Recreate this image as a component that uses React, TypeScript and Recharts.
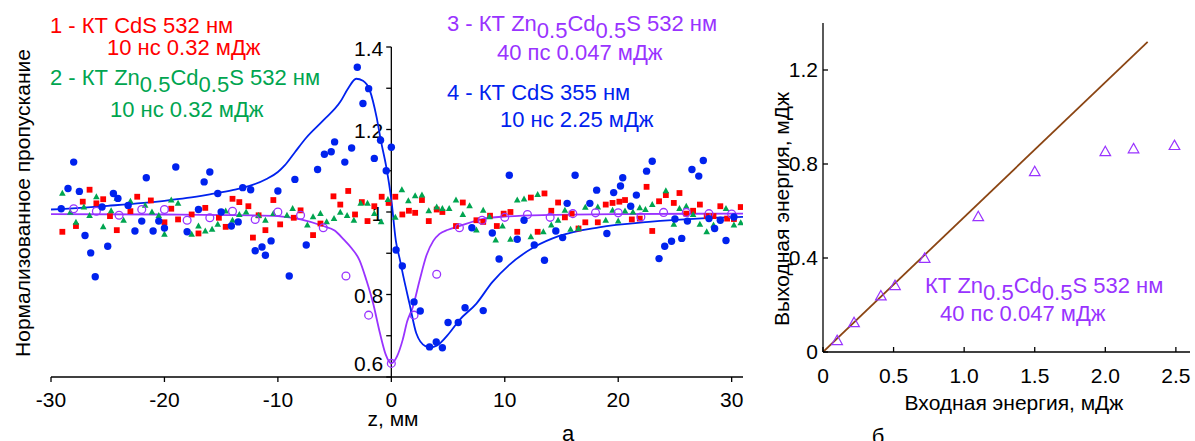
import React from 'react';
import { ComposedChart, Scatter, Line, XAxis, YAxis, ReferenceLine } from 'recharts';

const RED = '#ff0000';
const GREEN = '#00a550';
const PURPLE = '#9933ff';
const BLUE = '#0022ee';
const BROWN = '#8b4513';
const FONT = '"Liberation Sans", Arial, sans-serif';

// (a) z-scan, [z (мм), нормализованное пропускание]
// 1 - КТ CdS 532 нм, 10 нс 0.32 мДж
const cds532: [number, number][] = [
  [-29.0, 0.952], [-27.8, 0.966], [-27.2, 1.025], [-26.6, 1.054], [-26.0, 1.021], [-25.4, 1.031],
  [-24.8, 0.99], [-24.2, 0.956], [-23.0, 1.002], [-22.4, 1.037], [-21.2, 1.028], [-20.0, 0.975],
  [-19.4, 1.008], [-18.8, 0.982], [-17.6, 0.994], [-17.0, 0.948], [-16.4, 1.01], [-15.2, 0.986],
  [-14.6, 0.964], [-14.0, 1.032], [-13.4, 1.024], [-12.6, 1.014], [-12.2, 0.938], [-11.7, 0.992],
  [-11.1, 0.956], [-10.4, 1.029], [-9.8, 0.97], [-8.6, 0.986], [-8.0, 1.004], [-6.9, 0.944],
  [-6.25, 0.972], [-5.1, 1.038], [-4.5, 1.018], [-3.8, 1.051], [-3.2, 0.994], [-2.6, 1.024],
  [-2.1, 0.978], [-1.5, 1.014], [-0.85, 1.037], [-0.24, 1.022], [0.35, 1.037], [0.97, 0.994],
  [1.55, 1.003], [2.1, 0.998], [2.7, 1.029], [3.3, 0.978], [4.0, 1.006], [4.5, 1.0],
  [5.7, 0.966], [6.3, 1.023], [7.5, 0.98], [8.1, 0.976], [8.7, 0.991], [9.3, 0.966],
  [9.9, 0.996], [10.5, 1.0], [11.1, 0.952], [12.3, 1.035], [12.9, 0.952], [13.5, 1.045],
  [14.1, 1.003], [14.7, 1.023], [15.3, 0.987], [15.9, 0.996], [16.5, 0.96], [17.1, 0.975],
  [18.2, 0.975], [18.9, 1.018], [19.5, 1.022], [20.1, 1.025], [20.6, 1.029], [21.2, 0.982],
  [21.9, 0.984], [22.5, 1.061], [23.0, 0.954], [23.6, 1.026], [24.2, 1.041], [24.9, 1.022],
  [25.4, 1.046], [26.0, 0.996], [26.6, 1.003], [27.2, 1.018], [27.8, 0.99], [28.4, 0.99],
  [29.0, 1.014], [29.6, 0.984], [30.2, 0.983], [30.8, 1.012],
];

// 2 - КТ Zn0.5Cd0.5S 532 нм, 10 нс 0.32 мДж
const znCd532ns: [number, number][] = [
  [-29.0, 1.045], [-28.3, 0.999], [-27.8, 0.975], [-27.1, 1.012], [-26.6, 0.991], [-26.0, 1.037],
  [-25.4, 0.964], [-24.7, 1.003], [-24.2, 1.033], [-23.6, 0.98], [-23.0, 1.026], [-21.7, 1.016],
  [-21.1, 1.0], [-20.5, 0.991], [-20.0, 0.946], [-19.4, 1.029], [-18.8, 1.021], [-17.6, 0.946],
  [-17.0, 0.966], [-16.4, 0.954], [-15.8, 0.958], [-15.3, 0.97], [-14.6, 1.002], [-14.0, 0.98],
  [-13.4, 0.994], [-12.8, 1.0], [-11.7, 0.991], [-11.1, 0.98], [-10.4, 0.996], [-9.2, 0.992],
  [-8.7, 1.008], [-7.4, 0.968], [-6.9, 0.988], [-6.25, 0.996], [-5.7, 0.976], [-5.05, 0.984],
  [-4.5, 0.999], [-3.9, 0.991], [-3.3, 0.98], [-2.7, 1.021], [-2.1, 1.021], [-1.5, 0.996],
  [-0.9, 0.976], [-0.3, 1.03], [0.35, 0.987], [0.93, 1.054], [1.5, 1.027], [2.1, 1.039],
  [2.7, 1.041], [3.3, 1.003], [4.0, 1.012], [4.5, 1.008], [5.1, 1.008], [5.7, 1.029],
  [6.3, 0.994], [6.9, 1.015], [7.5, 0.956], [8.1, 1.004], [8.65, 0.988], [9.2, 0.932],
  [9.8, 0.966], [10.5, 0.934], [11.1, 1.029], [11.7, 1.031], [12.3, 0.94], [12.9, 1.042],
  [13.4, 0.952], [14.1, 0.968], [14.7, 0.98], [15.3, 1.004], [15.8, 0.958], [16.5, 0.96],
  [17.1, 1.011], [18.2, 1.012], [18.9, 0.98], [19.5, 1.004], [20.0, 0.978], [20.6, 1.002],
  [21.3, 1.0], [21.9, 1.01], [22.4, 1.006], [23.0, 1.018], [24.2, 1.051], [24.9, 0.97],
  [25.4, 1.008], [26.0, 1.014], [26.6, 0.994], [27.2, 0.97], [27.8, 0.952], [28.4, 0.968],
  [29.5, 1.008], [30.2, 0.968], [30.8, 0.974],
];

// 3 - КТ Zn0.5Cd0.5S 532 нм, 40 пс 0.047 мДж
const znCd532ps: [number, number][] = [
  [-28, 1.008], [-26, 1.002], [-24, 0.992], [-22, 1.006], [-20, 1.006], [-18, 0.98],
  [-16, 0.986], [-14, 1.002], [-12, 0.982], [-10, 1.0], [-8, 0.992], [-6, 0.962],
  [-4, 0.845], [-2, 0.75], [0, 0.633], [2, 0.75], [4, 0.849], [6, 0.962],
  [8, 0.98], [10, 0.987], [12, 0.994], [14, 0.987], [16, 0.996], [18, 0.998],
  [20, 0.998], [22, 0.988], [24, 0.999], [26, 0.999], [28, 0.996], [30, 0.995],
];
const znCd532psFit: [number, number][] = [
  [-30, 0.995], [-20, 0.994], [-12, 0.992], [-10, 0.99], [-8, 0.982], [-6, 0.966],
  [-5, 0.955], [-4.25, 0.935], [-3.5, 0.912], [-2.8, 0.883], [-2.2, 0.835], [-1.6, 0.778],
  [-1.0, 0.706], [-0.5, 0.655], [0, 0.633], [0.5, 0.65], [1.0, 0.69], [1.4, 0.735],
  [1.9, 0.77], [2.5, 0.835], [3.1, 0.895], [3.7, 0.93], [4.25, 0.947], [5, 0.957],
  [6, 0.966], [8, 0.983], [10, 0.989], [14, 0.993], [20, 0.995], [31, 0.996],
];

// 4 - КТ CdS 355 нм, 10 нс 2.25 мДж
const cds355: [number, number][] = [
  [-29.1, 1.008], [-28.5, 1.057], [-28.0, 1.121], [-27.5, 1.05], [-27.0, 0.943], [-26.5, 0.901],
  [-26.1, 0.843], [-25.5, 1.012], [-25.0, 0.917], [-24.5, 1.045], [-24.1, 1.033], [-23.2, 1.016],
  [-22.6, 0.954], [-22.0, 0.978], [-21.6, 1.083], [-21.0, 0.954], [-20.5, 0.978], [-20.0, 0.961],
  [-19.0, 1.109], [-18.0, 0.952], [-17.0, 1.006], [-16.5, 1.073], [-16.0, 1.097], [-15.3, 1.045],
  [-15.0, 1.0], [-14.1, 0.966], [-13.5, 0.976], [-13.1, 1.059], [-12.4, 1.054], [-12.0, 0.906],
  [-11.4, 0.915], [-11.1, 0.895], [-10.6, 0.93], [-10.0, 1.051], [-9.0, 0.845], [-8.5, 1.079],
  [-7.5, 0.92], [-6.5, 1.103], [-5.9, 1.14], [-5.3, 1.146], [-5.0, 1.17], [-4.1, 1.121],
  [-3.5, 1.155], [-3.0, 1.351], [-2.5, 1.263], [-2.0, 1.299], [-1.5, 1.13], [-0.95, 1.174],
  [-0.45, 1.1], [0, 1.157], [0.42, 0.908], [0.97, 0.869], [2.0, 0.782], [2.55, 0.76],
  [3.37, 0.673], [3.96, 0.685], [4.5, 0.671], [5.0, 0.732], [5.9, 0.732], [6.5, 0.768],
  [7.1, 0.962], [8.1, 0.761], [8.9, 0.949], [9.5, 0.886], [10.4, 1.089], [11.1, 0.934],
  [11.7, 0.98], [12.6, 0.92], [13.5, 0.883], [14.5, 0.954], [15.1, 0.938], [15.5, 1.021],
  [16.2, 1.089], [17.5, 1.021], [18.1, 1.053], [19.0, 0.948], [19.6, 1.047], [20.2, 1.063],
  [20.4, 1.083], [21.1, 1.014], [21.6, 1.041], [22.5, 1.099], [23.0, 1.123], [23.6, 0.887],
  [24.1, 0.917], [24.7, 0.929], [25.0, 0.983], [25.6, 0.936], [26.1, 0.978], [26.5, 1.103],
  [27.1, 1.087], [27.5, 1.125], [28.0, 0.984], [28.5, 0.96], [29.0, 0.98], [29.5, 0.931],
  [30.2, 0.988],
];
const cds355Fit: [number, number][] = [
  [-30, 1.006], [-25, 1.015], [-20, 1.027], [-18, 1.034], [-16, 1.043], [-14, 1.053],
  [-12.3, 1.065], [-11, 1.08], [-10, 1.097], [-9.4, 1.113], [-8.5, 1.145], [-7.5, 1.18],
  [-6, 1.222], [-4.5, 1.267], [-3.8, 1.3], [-3.1, 1.323], [-2.5, 1.318], [-1.9, 1.295],
  [-1.3, 1.23], [-0.9, 1.17], [-0.45, 1.11], [0, 1.03], [0.4, 0.93], [0.75, 0.885],
  [1.05, 0.845], [1.6, 0.778], [2.2, 0.706], [3.0, 0.675], [3.5, 0.672], [4.0, 0.676],
  [5.1, 0.706], [6.0, 0.738], [7.5, 0.778], [8.9, 0.83], [10.4, 0.872], [12.6, 0.915],
  [14.8, 0.942], [18.3, 0.963], [22.7, 0.976], [27, 0.984], [31, 0.988],
];

const zTicks = [-30, -20, -10, 0, 10, 20, 30];
const tMinor = [0.6, 0.7, 0.8, 0.9, 1.0, 1.1, 1.2, 1.3, 1.4];
const tLabels: [number, string][] = [[0.6, '0.6'], [0.8, '0.8'], [1.0, '1'], [1.2, '1.2'], [1.4, '1.4']];

// (б) выходная энергия от входной
const inputEnergy = [0.1, 0.22, 0.41, 0.51, 0.72, 1.1, 1.5, 2.0, 2.2, 2.49];
const outputEnergy = [0.047, 0.123, 0.237, 0.281, 0.397, 0.574, 0.766, 0.851, 0.863, 0.877];
const linearFit: [number, number][] = [[0, 0], [2.3, 1.32]];
const eTicksX = [0, 0.5, 1, 1.5, 2, 2.5];
const eTicksY = [0, 0.4, 0.8, 1.2];

const pts = (arr: [number, number][]) => arr.map(([x, y]) => ({ x, y }));
const energyPts = inputEnergy.map((x, i) => ({ x, y: outputEnergy[i] }));

const Square = (p: any) => <rect x={p.cx - 2.9} y={p.cy - 2.9} width={5.8} height={5.8} fill={RED} />;
const Tri = (p: any) => (
  <path d={`M${p.cx},${p.cy - 3.6}L${p.cx + 3.3},${p.cy + 2.4}L${p.cx - 3.3},${p.cy + 2.4}Z`} fill={GREEN} />
);
const Ring = (p: any) => <circle cx={p.cx} cy={p.cy} r={3.9} fill="none" stroke={PURPLE} strokeWidth={1.3} />;
const Dot = (p: any) => <circle cx={p.cx} cy={p.cy} r={3.7} fill={BLUE} />;
const OpenTri = (p: any) => (
  <path
    d={`M${p.cx},${p.cy - 5.8}L${p.cx + 5.3},${p.cy + 3.6}L${p.cx - 5.3},${p.cy + 3.6}Z`}
    fill="none"
    stroke={PURPLE}
    strokeWidth={1.2}
  />
);

const fmtE = (v: number) => (v === 0 ? '0' : v.toFixed(1));

// Zn0.5Cd0.5S with lowered indices
function ZnCd() {
  return (
    <>
      <tspan>Zn</tspan>
      <tspan dy={7}>0.5</tspan>
      <tspan dy={-7}>Cd</tspan>
      <tspan dy={7}>0.5</tspan>
      <tspan dy={-7}>S 532 нм</tspan>
    </>
  );
}

function Annotations() {
  const t = { fontSize: 22, fontFamily: FONT } as const;
  return (
    <svg width={1195} height={441} style={{ position: 'absolute', left: 0, top: 0, pointerEvents: 'none' }}>
      <text x={50} y={33} fill={RED} {...t}>1 - КТ CdS 532 нм</text>
      <text x={107} y={55} fill={RED} {...t}>10 нс 0.32 мДж</text>
      <text x={50} y={85} fill={GREEN} {...t}>2 - КТ <ZnCd /></text>
      <text x={110} y={117} fill={GREEN} {...t}>10 нс 0.32 мДж</text>
      <text x={447} y={31} fill={PURPLE} {...t}>3 - КТ <ZnCd /></text>
      <text x={497} y={60} fill={PURPLE} {...t}>40 пс 0.047 мДж</text>
      <text x={447} y={100} fill={BLUE} {...t}>4 - КТ CdS 355 нм</text>
      <text x={500} y={127} fill={BLUE} {...t}>10 нс 2.25 мДж</text>
      <text x={925} y={293} fill={PURPLE} {...t}>КТ <ZnCd /></text>
      <text x={940} y={321} fill={PURPLE} {...t}>40 пс 0.047 мДж</text>

      <text transform="translate(22,203) rotate(-90)" textAnchor="middle" dominantBaseline="central" fontSize={21} fontFamily={FONT}>
        Нормализованное пропускание
      </text>
      <text transform="translate(781,209) rotate(-90)" textAnchor="middle" dominantBaseline="central" fontSize={21} fontFamily={FONT}>
        Выходная энергия, мДж
      </text>
      <text x={393} y={426} textAnchor="middle" fontSize={21} fontFamily={FONT}>z, мм</text>
      <text x={1014} y={410} textAnchor="middle" fontSize={21} fontFamily={FONT}>Входная энергия, мДж</text>
      <text x={568} y={441} textAnchor="middle" fontSize={22} fontFamily={FONT}>а</text>
      <text x={878} y={444} textAnchor="middle" fontSize={22} fontFamily={FONT}>б</text>
    </svg>
  );
}

function ZScanChart() {
  return (
    <ComposedChart width={760} height={441} margin={{ top: 47, right: 17, bottom: 34, left: 51 }}>
      <XAxis
        type="number"
        dataKey="x"
        domain={[-30, 31]}
        ticks={zTicks}
        interval={0}
        allowDataOverflow
        height={30}
        tickSize={5}
        tickMargin={10}
        axisLine={{ stroke: '#000', strokeWidth: 1.3 }}
        tickLine={{ stroke: '#000', strokeWidth: 1.3 }}
        tick={{ fill: '#000', fontSize: 21 }}
      />
      <YAxis type="number" dataKey="y" domain={[0.6, 1.4]} allowDataOverflow hide />
      <ReferenceLine x={0} stroke="#000" strokeWidth={1.3} />
      {tMinor.map((v) => (
        <ReferenceLine
          key={'tk' + v}
          segment={[{ x: -0.45, y: v }, { x: 0, y: v }]}
          stroke="#000"
          strokeWidth={1.3}
        />
      ))}
      {tLabels.map(([v, s]) => (
        <ReferenceLine
          key={'tl' + v}
          segment={[{ x: -0.45, y: v }, { x: 0, y: v }]}
          stroke="none"
          label={(p: any) => (
            <text
              x={p.viewBox.x - 3}
              y={p.viewBox.y + (v === 0.6 ? -14 : 1)}
              textAnchor="end"
              dominantBaseline="central"
              fontSize={21}
              fill="#000"
            >
              {s}
            </text>
          )}
        />
      ))}
      <Scatter data={pts(cds532)} dataKey="y" shape={Square} isAnimationActive={false} />
      <Scatter data={pts(znCd532ns)} dataKey="y" shape={Tri} isAnimationActive={false} />
      <Scatter data={pts(znCd532ps)} dataKey="y" shape={Ring} isAnimationActive={false} />
      <Scatter data={pts(cds355)} dataKey="y" shape={Dot} isAnimationActive={false} />
      <Line data={pts(znCd532psFit)} dataKey="y" type="monotone" stroke={PURPLE} strokeWidth={1.8} dot={false} isAnimationActive={false} />
      <Line data={pts(cds355Fit)} dataKey="y" type="monotone" stroke={BLUE} strokeWidth={1.8} dot={false} isAnimationActive={false} />
    </ComposedChart>
  );
}

function EnergyChart() {
  return (
    <ComposedChart width={435} height={441} margin={{ top: 23, right: 5, bottom: 59, left: 23 }}>
      <XAxis
        type="number"
        dataKey="x"
        domain={[0, 2.6]}
        ticks={eTicksX}
        interval={0}
        allowDataOverflow
        height={30}
        tickSize={-5}
        tickMargin={21}
        tickFormatter={fmtE}
        axisLine={{ stroke: '#000', strokeWidth: 1.3 }}
        tickLine={{ stroke: '#000', strokeWidth: 1.3 }}
        tick={{ fill: '#000', fontSize: 21 }}
      />
      <YAxis
        type="number"
        dataKey="y"
        domain={[0, 1.4]}
        ticks={eTicksY}
        interval={0}
        allowDataOverflow
        width={40}
        tickSize={-5}
        tickMargin={10}
        tickFormatter={fmtE}
        axisLine={{ stroke: '#000', strokeWidth: 1.3 }}
        tickLine={{ stroke: '#000', strokeWidth: 1.3 }}
        tick={{ fill: '#000', fontSize: 21 }}
      />
      <Line data={pts(linearFit)} dataKey="y" type="linear" stroke={BROWN} strokeWidth={1.8} dot={false} isAnimationActive={false} />
      <Scatter data={energyPts} dataKey="y" shape={OpenTri} isAnimationActive={false} />
    </ComposedChart>
  );
}

export default function App() {
  return (
    <div
      style={{
        position: 'absolute',
        left: 0,
        top: 0,
        width: 1195,
        height: 441,
        background: '#fff',
        overflow: 'hidden',
        fontFamily: FONT,
      }}
    >
      <div style={{ position: 'absolute', left: 0, top: 0 }}>
        <ZScanChart />
      </div>
      <div style={{ position: 'absolute', left: 760, top: 0 }}>
        <EnergyChart />
      </div>
      <Annotations />
    </div>
  );
}
